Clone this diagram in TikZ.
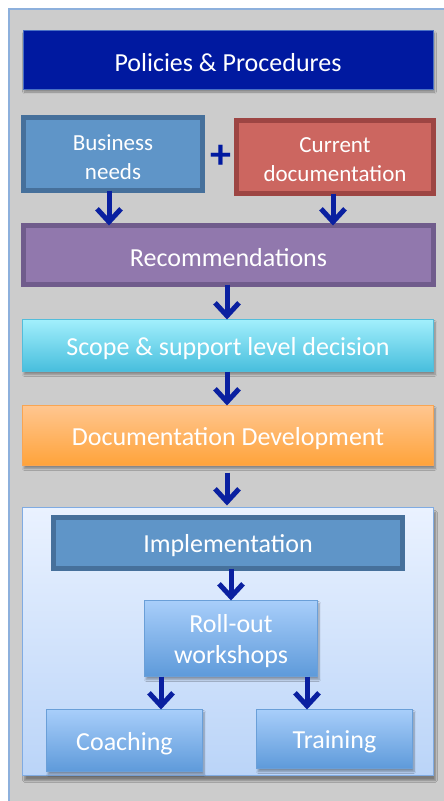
\documentclass[tikz,border=0pt]{standalone}
\usepackage{fontspec}
\setmainfont{Carlito}
\usetikzlibrary{arrows.meta,shadows.blur}
\definecolor{navy}{HTML}{0019A0}
\definecolor{navyedge}{HTML}{4A70C4}
\definecolor{arrowc}{HTML}{0A20A0}
\definecolor{bgray}{HTML}{CCCCCC}
\definecolor{bgedge}{HTML}{8DB0DC}
\definecolor{bluefill}{HTML}{5F95C8}
\definecolor{blueedge}{HTML}{46709B}
\definecolor{redfill}{HTML}{CC6660}
\definecolor{rededge}{HTML}{9D4543}
\definecolor{purfill}{HTML}{9178AD}
\definecolor{puredge}{HTML}{705C8C}
\definecolor{cyantop}{HTML}{A2EFFC}
\definecolor{cyanbot}{HTML}{47BEDD}
\definecolor{cyanedge}{HTML}{54BDDA}
\definecolor{ortop}{HTML}{FFC690}
\definecolor{orbot}{HTML}{FFA33A}
\definecolor{oredge}{HTML}{F9A552}
\definecolor{conttop}{HTML}{EAF2FF}
\definecolor{contbot}{HTML}{BAD4F8}
\definecolor{contedge}{HTML}{80ABE2}
\definecolor{lbtop}{HTML}{A8CEFA}
\definecolor{lbbot}{HTML}{5E9ADA}
\definecolor{lbedge}{HTML}{6A9FD8}
\begin{document}
\begin{tikzpicture}[x=1pt,y=-1pt,
  box/.style={rectangle, inner sep=0pt, outer sep=0pt},
  txt/.style={inner sep=0pt, text=white, align=center, font=\fontsize{26}{31}\selectfont},
  smalltxt/.style={txt, font=\fontsize{23}{29}\selectfont},
  sh/.style={blur shadow={shadow xshift=1.5pt,shadow yshift=-3pt,shadow blur steps=6,shadow opacity=35}},
  thickbox/.style={box, line width=5pt},
  arr/.style={draw=arrowc, line width=5pt, -{Straight Barb[length=13pt,width=24pt]}}
]
\useasboundingbox (0,0) rectangle (444,801);
% background panel
\fill[white] (0,0) rectangle (444,801);
\draw[fill=bgray, draw=bgedge, line width=1.5pt] (9,9) rectangle (460,820);

% boxes
\node[box, sh, fill=navy, draw=navyedge, line width=1pt, minimum width=410pt, minimum height=59pt]
  (pol) at (228,59.5) {};
\node[thickbox, fill=bluefill, draw=blueedge, minimum width=179pt, minimum height=73pt]
  (bn) at (113,154) {};
\node[thickbox, fill=redfill, draw=rededge, minimum width=197pt, minimum height=73pt]
  (cd) at (335,157) {};
\node[thickbox, fill=purfill, draw=puredge, minimum width=410pt, minimum height=59pt]
  (rec) at (228.5,255) {};
\node[box, sh, top color=cyantop, bottom color=cyanbot, draw=cyanedge, line width=1pt,
  minimum width=411pt, minimum height=52pt] (scope) at (228,345.5) {};
\node[box, sh, top color=ortop, bottom color=orbot, draw=oredge, line width=1pt,
  minimum width=411pt, minimum height=60pt] (dev) at (228,435.5) {};
\node[box, blur shadow={shadow xshift=2pt,shadow yshift=-5pt,shadow blur steps=8,shadow opacity=40},
  top color=conttop, bottom color=contbot, draw=contedge, line width=1pt,
  minimum width=411pt, minimum height=268pt] (cont) at (228,641.5) {};
\node[thickbox, fill=bluefill, draw=blueedge, minimum width=349pt, minimum height=51pt]
  (impl) at (228,543) {};
\node[box, sh, top color=lbtop, bottom color=lbbot, draw=lbedge, line width=1pt,
  minimum width=173pt, minimum height=76pt] (roll) at (231,638.5) {};
\node[box, sh, top color=lbtop, bottom color=lbbot, draw=lbedge, line width=1pt,
  minimum width=156pt, minimum height=62pt] (coach) at (124.5,740.5) {};
\node[box, sh, top color=lbtop, bottom color=lbbot, draw=lbedge, line width=1pt,
  minimum width=156pt, minimum height=59pt] (train) at (334.5,739) {};

% texts
\node[txt] (polt) at ([yshift=-3pt]pol.center) {Policies \& Procedures};
\node[smalltxt] (bnt) at ([yshift=-3pt]bn.center) {Business\\needs};
\node[smalltxt] (cdt) at ([yshift=-3pt]cd.center) {Current\\documentation};
\node[text=navy, font=\fontsize{42}{42}\selectfont\bfseries, inner sep=0pt] (plus) at (221,157) {+};
\node[txt] (rect) at ([yshift=-3pt]rec.center) {Recommendations};
\node[txt] (scopet) at ([yshift=-3pt]scope.center) {Scope \& support level decision};
\node[txt] (devt) at ([yshift=-3pt]dev.center) {Documentation Development};
\node[txt] (implt) at ([yshift=-3pt]impl.center) {Implementation};
\node[txt] (rollt) at ([yshift=-3pt]roll.center) {Roll-out\\workshops};
\node[txt] (coacht) at ([yshift=-3pt]coach.center) {Coaching};
\node[txt] (traint) at ([yshift=-3pt]train.center) {Training};

% arrows
\draw[arr] ([xshift=-4pt]bn.south) -- ([xshift=-4pt]bn.south |- rec.north);
\draw[arr] ([xshift=-2pt]cd.south) -- ([xshift=-2pt]cd.south |- rec.north);
\draw[arr] ([xshift=-1.5pt]rec.south) -- ([xshift=-1.5pt]rec.south |- scope.north);
\draw[arr] ([xshift=-1pt]scope.south) -- ([xshift=-1pt]scope.south |- dev.north);
\draw[arr] ([xshift=-1pt,yshift=-7pt]dev.south) -- ([xshift=-1pt,yshift=2pt]dev.south |- cont.north);
\draw[arr] ([xshift=3pt]impl.south) -- ([xshift=3pt]impl.south |- roll.north);
\draw[arr] ([xshift=-70pt]roll.south) -- ([xshift=-70pt]roll.south |- coach.north);
\draw[arr] ([xshift=76pt]roll.south) -- ([xshift=76pt]roll.south |- train.north);
\end{tikzpicture}
\end{document}
